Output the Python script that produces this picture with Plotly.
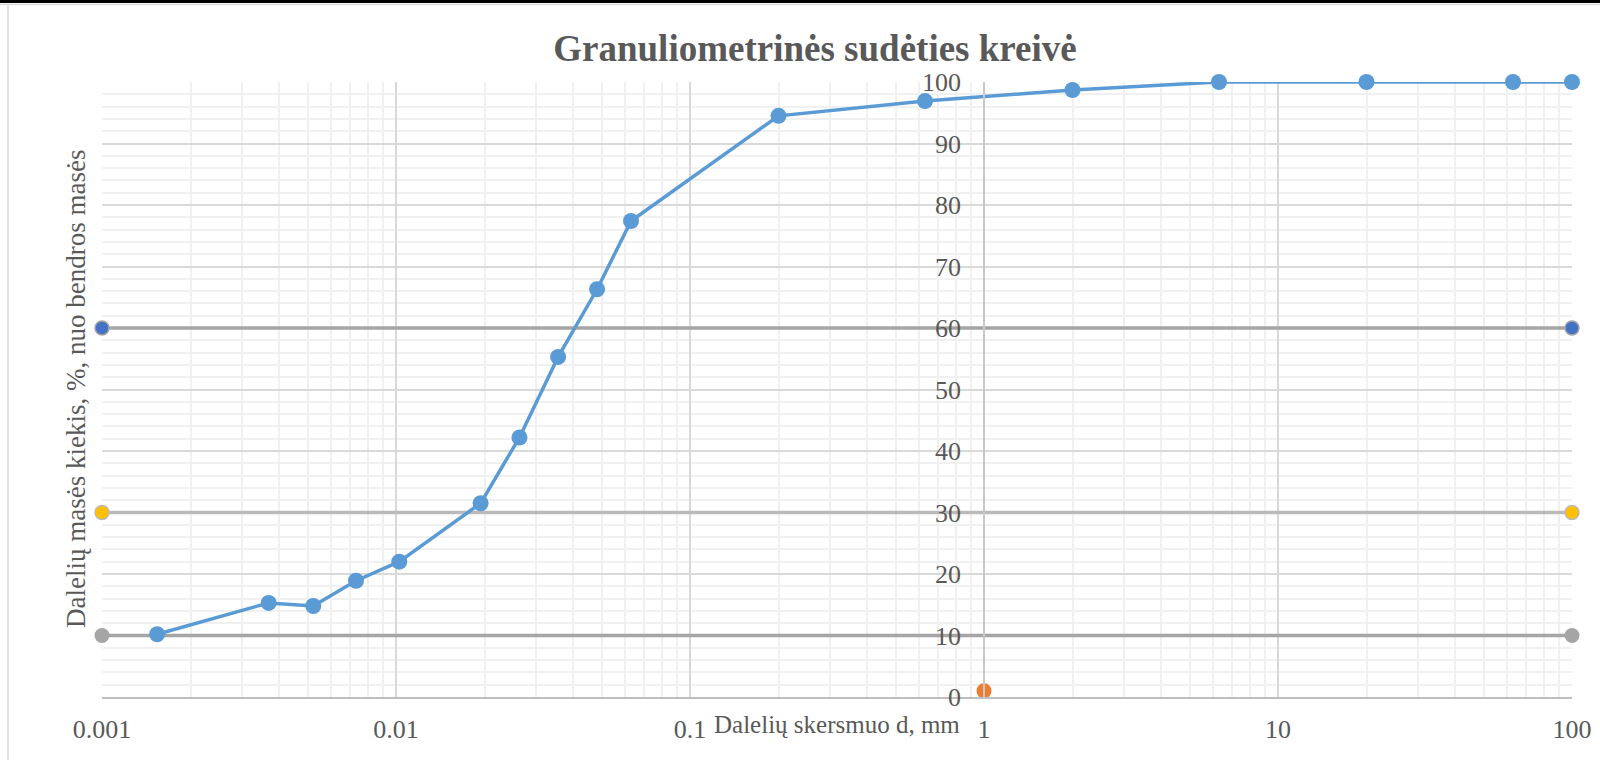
import plotly.graph_objects as go

# particle size (mm) vs passing (%) - hydrometer + sieve results
d_mm = [0.00154, 0.00369, 0.00523, 0.00731, 0.01026, 0.0194, 0.0263, 0.0356, 0.0483, 0.063,
        0.2, 0.63, 2, 6.3, 20, 63, 100]
passing = [10.2, 15.3, 14.8, 18.9, 22.0, 31.5, 42.2, 55.3, 66.3, 77.4,
           94.5, 96.9, 98.7, 100, 100, 100, 100]

# helper lines d60 / d30 / d10
line_x = [0.001, 100]
d60 = [60, 60]
d30 = [30, 30]
d10 = [10, 10]

# single orange point
pt_x = [1]
pt_y = [1]

x_tickvals = [0.001, 0.01, 0.1, 1, 10, 100]
x_ticktext = ["0.001", "0.01", "0.1", "1", "10", "100"]
y_tickvals = [0, 10, 20, 30, 40, 50, 60, 70, 80, 90, 100]

W, H = 1600, 760
L, R, T, B = 102, 28, 82, 63
pw, ph = W - L - R, H - T - B

grey_txt = "#595959"
serif = "Liberation Serif, Times New Roman, serif"

fig = go.Figure()

fig.add_trace(go.Scatter(x=line_x, y=d60, mode="lines+markers", cliponaxis=False,
                         line=dict(color="#a5a5a5", width=3.5),
                         marker=dict(size=14, color="#4472c4", line=dict(color="#a5a5a5", width=1.5))))
fig.add_trace(go.Scatter(x=line_x, y=d30, mode="lines+markers", cliponaxis=False,
                         line=dict(color="#bababa", width=3.5),
                         marker=dict(size=14, color="#ffc000", line=dict(color="#bababa", width=1.5))))
fig.add_trace(go.Scatter(x=line_x, y=d10, mode="lines+markers", cliponaxis=False,
                         line=dict(color="#a5a5a5", width=3.5),
                         marker=dict(size=15, color="#a5a5a5")))
fig.add_trace(go.Scatter(x=pt_x, y=pt_y, mode="markers", cliponaxis=False,
                         marker=dict(size=15, color="#ed7d31")))
fig.add_trace(go.Scatter(x=d_mm, y=passing, mode="lines+markers", cliponaxis=False,
                         line=dict(color="#5b9bd5", width=3.5),
                         marker=dict(size=16, color="#5b9bd5")))

fig.update_xaxes(type="log", range=[-3, 2], domain=[0, 1],
                 tickvals=x_tickvals, ticktext=x_ticktext,
                 tickfont=dict(family=serif, size=26, color=grey_txt),
                 ticks="outside", ticklen=8, tickcolor="rgba(0,0,0,0)",
                 showgrid=True, gridcolor="#d9d9d9", gridwidth=1.5,
                 minor=dict(dtick="D1", showgrid=True, gridcolor="#f0f0f0", gridwidth=1.5),
                 showline=True, linecolor="#bfbfbf", linewidth=1.5,
                 zeroline=False)
fig.update_yaxes(range=[0, 100], anchor="free", position=0.6,
                 tickvals=y_tickvals,
                 tickfont=dict(family=serif, size=26, color=grey_txt),
                 ticks="outside", ticklen=17, tickcolor="rgba(0,0,0,0)",
                 showgrid=True, gridcolor="#d9d9d9", gridwidth=1.5,
                 minor=dict(dtick=2, showgrid=True, gridcolor="#f0f0f0", gridwidth=1.5),
                 showline=True, linecolor="#c8c8c8", linewidth=1.5,
                 zeroline=False)

fig.add_annotation(text="Dalelių skersmuo d, mm", xref="paper", yref="paper",
                   x=0.5, y=-28 / ph, xanchor="center", yanchor="middle", showarrow=False,
                   font=dict(family=serif, size=25, color=grey_txt))
fig.add_annotation(text="Dalelių masės kiekis, %, nuo bendros masės", xref="paper", yref="paper",
                   x=(76 - L) / pw, y=(H - B - 389) / ph, xanchor="center", yanchor="middle",
                   textangle=-90, showarrow=False,
                   font=dict(family=serif, size=27, color=grey_txt))

# chart frame remnants (top black edge, light border)
fig.add_shape(type="rect", xref="paper", yref="paper",
              x0=-L / pw, x1=(W - L) / pw, y0=(H - B - 3) / ph, y1=(H - B + 5) / ph,
              fillcolor="black", line_width=0, layer="above")
fig.add_shape(type="line", xref="paper", yref="paper",
              x0=-L / pw, x1=(W - L) / pw, y0=(H - B - 4.5) / ph, y1=(H - B - 4.5) / ph,
              line=dict(color="#d9d9d9", width=1.5))
fig.add_shape(type="line", xref="paper", yref="paper",
              x0=(8 - L) / pw, x1=(8 - L) / pw, y0=-B / ph, y1=(H - B - 4.5) / ph,
              line=dict(color="#d9d9d9", width=1.5))

fig.update_layout(
    width=W, height=H,
    margin=dict(l=L, r=R, t=T, b=B, autoexpand=False),
    paper_bgcolor="white", plot_bgcolor="white",
    showlegend=False,
    title=dict(text="<b>Granuliometrinės sudėties kreivė</b>", x=815 / W, xanchor="center",
               y=1 - 48 / H, yanchor="middle",
               font=dict(family=serif, size=37, color=grey_txt)),
)

fig.write_html("out.html", config={"displayModeBar": False},
               post_script="document.body.style.margin='0';document.body.style.overflow='hidden';")
